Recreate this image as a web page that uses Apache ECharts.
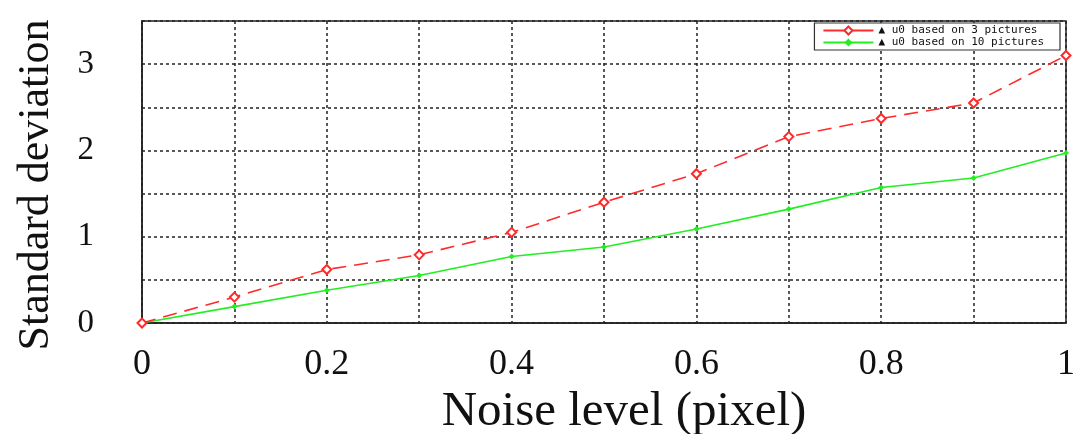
<!DOCTYPE html>
<html>
<head>
<meta charset="utf-8">
<script src="https://cdn.jsdelivr.net/npm/echarts@6/dist/echarts.min.js"></script>
<style>html,body{margin:0;padding:0;background:#fff;}#c{width:1079px;height:434px;}</style>
</head>
<body>
<div id="c"></div>
<script>
const noiseLevels = [0, 0.1, 0.2, 0.3, 0.4, 0.5, 0.6, 0.7, 0.8, 0.9, 1.0];
const std3Pictures = [0, 0.30, 0.62, 0.79, 1.05, 1.40, 1.73, 2.16, 2.37, 2.55, 3.10];
const std10Pictures = [0, 0.19, 0.38, 0.55, 0.77, 0.88, 1.09, 1.32, 1.57, 1.68, 1.97];
const xTickLabels = ['0', '0.2', '0.4', '0.6', '0.8', '1'];
const yTickLabels = ['0', '1', '2', '3'];
const seriesNames = ['u0 based on 3 pictures', 'u0 based on 10 pictures'];

const chart = echarts.init(document.getElementById('c'), null, {renderer: 'canvas'});
const serif = '"Liberation Serif", "Times New Roman", serif';
const gridLine = {show: true, lineStyle: {color: '#222', width: 1.5, type: [3, 3]}};

chart.setOption({
  animation: false,
  backgroundColor: '#fff',
  grid: {left: 142, right: 13, top: 21, bottom: 111, outerBoundsMode: 'none', containLabel: false,
         show: true, borderColor: '#222', borderWidth: 1.5, backgroundColor: 'transparent'},
  legend: {
    orient: 'vertical', right: 19, top: 23,
    backgroundColor: '#fff', borderColor: '#333', borderWidth: 1.2,
    padding: [2, 16, 2, 8], itemGap: 1, itemWidth: 50, itemHeight: 10,
    textStyle: {fontFamily: '"DejaVu Sans Mono", monospace', fontSize: 11, color: '#111'},
    lineStyle: {type: 'solid'},
    formatter: n => '\u25B2 ' + n,
    data: seriesNames
  },
  xAxis: {
    type: 'value', min: 0, max: 1, interval: 0.1,
    name: 'Noise level (pixel)', nameLocation: 'middle', nameGap: 46,
    nameTextStyle: {fontFamily: serif, fontSize: 49, color: '#111', padding: [0, 0, 0, 40]},
    axisLine: {show: true, lineStyle: {color: '#222', width: 1.5}},
    axisTick: {show: false},
    splitLine: gridLine,
    axisLabel: {
      margin: 24, fontFamily: serif, fontSize: 36, color: '#111',
      formatter: v => {
        const s = String(Math.round(v * 10) / 10);
        return xTickLabels.includes(s) ? s : '';
      }
    }
  },
  yAxis: {
    type: 'value', min: 0, max: 3.5, interval: 0.5,
    name: 'Standard deviation', nameLocation: 'middle', nameGap: 84,
    nameTextStyle: {fontFamily: serif, fontSize: 44, color: '#111', padding: [0, 26, 0, 0]},
    axisLine: {show: true, lineStyle: {color: '#222', width: 1.5}},
    axisTick: {show: false},
    splitLine: gridLine,
    axisLabel: {
      margin: 48, fontFamily: serif, fontSize: 33, color: '#111',
      formatter: v => {
        const s = String(Math.round(v * 10) / 10);
        return yTickLabels.includes(s) ? s : '';
      }
    }
  },
  series: [
    {
      name: seriesNames[0], type: 'line',
      data: noiseLevels.map((x, i) => [x, std3Pictures[i]]),
      symbol: 'emptyDiamond', symbolSize: 9, showSymbol: true,
      lineStyle: {color: '#ff2a2a', width: 1.6, type: [14, 8]},
      itemStyle: {color: '#ff2a2a', borderColor: '#ff2a2a', borderWidth: 1.3},
      z: 3
    },
    {
      name: seriesNames[1], type: 'line',
      data: noiseLevels.map((x, i) => [x, std10Pictures[i]]),
      symbol: 'diamond', symbolSize: 6, showSymbol: true,
      lineStyle: {color: '#22ee22', width: 1.6, type: 'solid'},
      itemStyle: {color: '#22ee22'},
      z: 2
    }
  ]
});
</script>
</body>
</html>
